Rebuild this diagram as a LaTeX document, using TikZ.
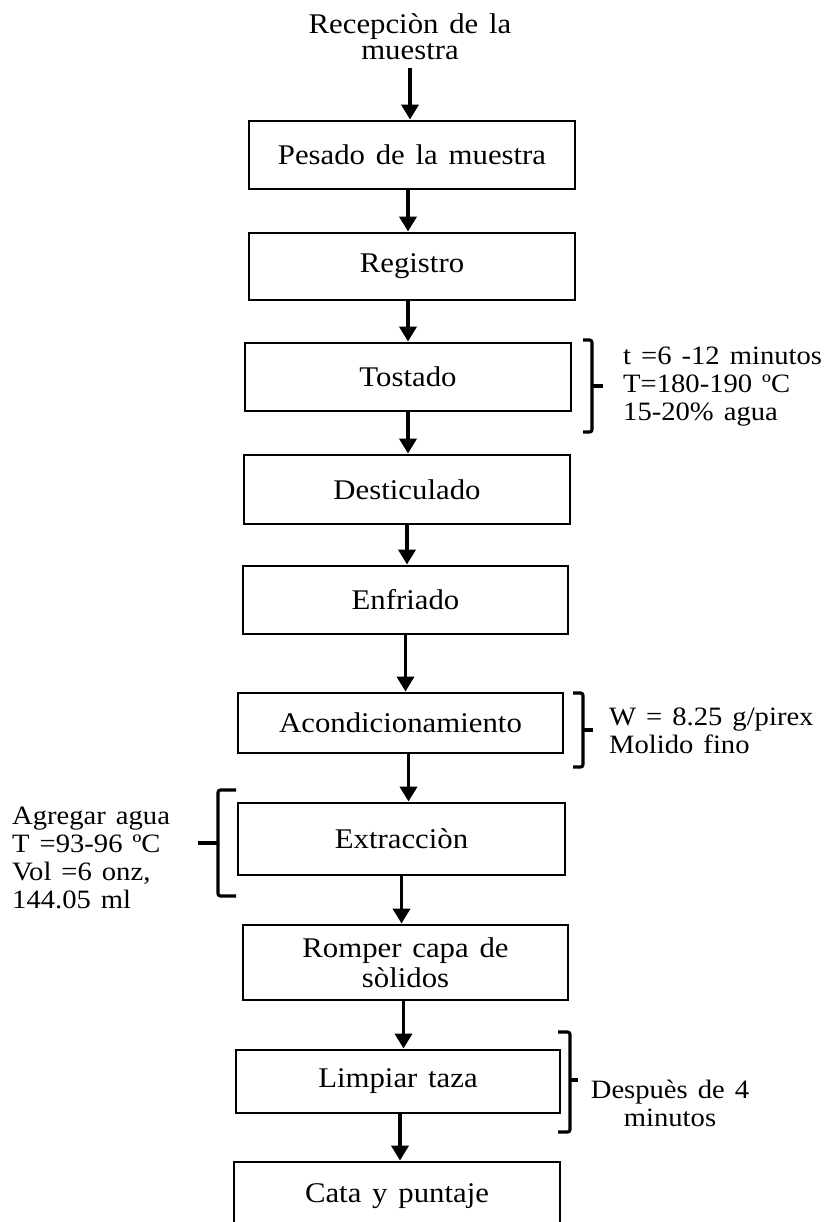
\documentclass[tikz,border=0pt]{standalone}
\usepackage{fontspec}
\setmainfont{Liberation Serif}[FakeStretch=1.08, WordSpace=1.4]
\usetikzlibrary{arrows.meta}
\begin{document}
\begin{tikzpicture}[x=1pt,y=-1pt,
  box/.style={draw, line width=2.9pt, inner sep=0pt, align=center,
    font=\fontsize{28.5}{30}\selectfont},
  side/.style={inner sep=0pt, font=\fontsize{26.5}{28}\selectfont},
  flow/.style={line width=3.8pt, -{Triangle[length=15pt,width=17pt]}},
  brk/.style={line width=3.2pt, rounded corners=2.5pt}]
\clip (0,0) rectangle (834,1222);
\fill[white] (0,0) rectangle (834,1222);
\node[inner sep=0pt, align=center, font=\fontsize{28.5}{26}\selectfont] (rec) at (410,37) {Recepciòn de la\\muestra};
\node[box, minimum width=326pt, minimum height=68pt] (pes) at (412,155) {Pesado de la muestra};
\node[box, minimum width=326pt, minimum height=67pt] (reg) at (412,266.5) {Registro};
\node[box, minimum width=326pt, minimum height=68pt] (tos) at (408,377) {Tostado};
\node[box, minimum width=326pt, minimum height=69pt] (des) at (407,489.5) {Desticulado};
\node[box, minimum width=325pt, minimum height=68pt] (enf) at (405.5,600) {Enfriado};
\node[box, minimum width=325pt, minimum height=60pt] (aco) at (400.5,723) {Acondicionamiento};
\node[box, minimum width=327pt, minimum height=72pt] (ext) at (401.5,839) {Extracciòn};
\node[box, minimum width=325pt, minimum height=75pt] (rom) at (405.5,962.5) {Romper capa de\\sòlidos};
\node[box, minimum width=324pt, minimum height=63pt] (lim) at (398,1081.5) {Limpiar taza};
\node[box, minimum width=326pt, minimum height=68pt] (cat) at (397,1196) {Cata y puntaje};
% arrows
\draw[flow, shorten <=8pt] (rec.south) -- (rec.south |- pes.north);
\draw[flow] ([xshift=-4pt]pes.south) -- ([xshift=-4pt]pes.south |- reg.north);
\draw[flow] ([xshift=-4pt]reg.south) -- ([xshift=-4pt]reg.south |- tos.north);
\draw[flow] (tos.south) -- (tos.south |- des.north);
\draw[flow] (des.south) -- (des.south |- enf.north);
\draw[flow] (enf.south) -- (enf.south |- aco.north);
\draw[flow] ([xshift=8pt]aco.south) -- ([xshift=8pt]aco.south |- ext.north);
\draw[flow] (ext.south) -- (ext.south |- rom.north);
\draw[flow] ([xshift=-2pt]rom.south) -- ([xshift=-2pt]rom.south |- lim.north);
\draw[flow] ([xshift=2pt]lim.south) -- ([xshift=2pt]lim.south |- cat.north);
% brackets
\draw[brk] (583,340) -- (592,340) -- (592,432) -- (583,432);
\draw[line width=3.2pt] (592,386) -- (603,386);
\draw[brk] (573,693) -- (583,693) -- (583,767) -- (573,767);
\draw[line width=3.2pt] (583,730) -- (593,730);
\draw[brk] (236,790) -- (218,790) -- (218,896) -- (236,896);
\draw[line width=3.2pt] (218,843) -- (198,843);
\draw[brk] (558,1032) -- (570,1032) -- (570,1132) -- (558,1132);
\draw[line width=3.2pt] (570,1080) -- (578,1080);
% side texts
\node[side, align=left, anchor=west] (ntos) at (623,387) {t =6 -12 minutos\\T=180-190 ºC\\15-20\% agua};
\node[side, align=left, anchor=west] (naco) at (609,731) {W = 8.25 g/pirex\\Molido fino};
\node[side, align=left, anchor=west] (next) at (12,858) {Agregar agua\\T =93-96 ºC\\Vol =6 onz,\\144.05 ml};
\node[side, align=center] (nlim) at (670,1103) {Despuès de 4\\minutos};
\end{tikzpicture}
\end{document}
